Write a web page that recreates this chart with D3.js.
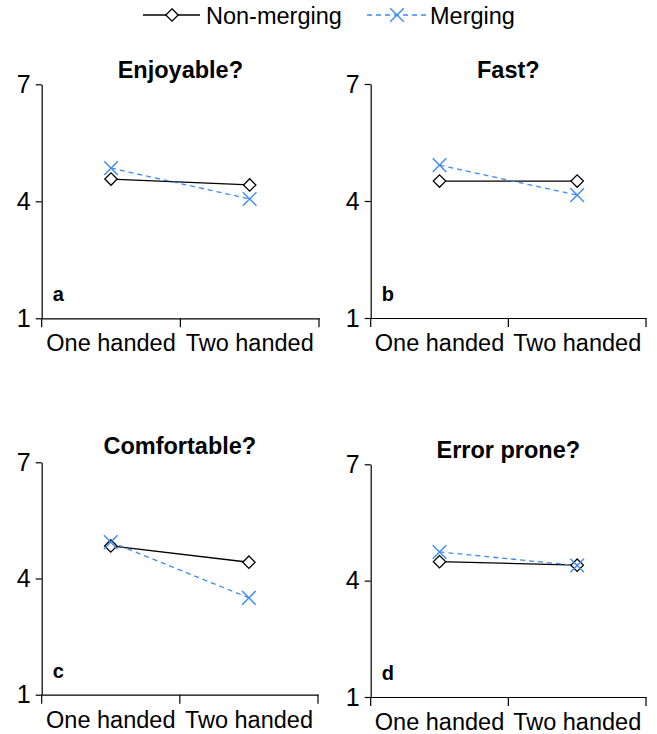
<!DOCTYPE html>
<html>
<head>
<meta charset="utf-8">
<script src="https://cdn.jsdelivr.net/npm/d3@7"></script>
<style>
  html, body { margin: 0; padding: 0; background: #fff; }
  svg { display: block; font-family: "Liberation Sans", Arial, Helvetica, sans-serif; }
</style>
</head>
<body>
<svg id="chart" width="657" height="734"></svg>
<script>
// Questionnaire ratings (1–7 scale) by hand condition
const categories = ["One handed", "Two handed"];
const titles = ["Enjoyable?", "Fast?", "Comfortable?", "Error prone?"];
const panelLetters = ["a", "b", "c", "d"];
const nonMerging = [[4.57, 4.42], [4.51, 4.51], [4.84, 4.42], [4.49, 4.40]];
const merging = [[4.85, 4.06], [4.92, 4.15], [4.94, 3.50], [4.74, 4.39]];
const yTicks = [1, 4, 7];
const seriesNames = ["Non-merging", "Merging"];

// Panel frames: left/right of x axis, top (7) and bottom (1) of y axis
const frames = [
  { x0: 41.7, x1: 319, yTop: 84.3, yBot: 318.3, titleY: 78 },
  { x0: 370.7, x1: 646, yTop: 84, yBot: 318, titleY: 78 },
  { x0: 41.7, x1: 318, yTop: 462.3, yBot: 694.7, titleY: 454 },
  { x0: 370.7, x1: 646, yTop: 464.3, yBot: 697, titleY: 458 }
];

const blue = "#3d8bf2";
const svg = d3.select("#chart");

function diamond(g, x, y) {
  const r = 6.2;
  g.append("path")
    .attr("d", `M${x},${y - r}L${x + r},${y}L${x},${y + r}L${x - r},${y}Z`)
    .attr("fill", "#fff").attr("stroke", "#000").attr("stroke-width", 1.3);
}
function cross(g, x, y) {
  const r = 6.8;
  g.append("path")
    .attr("d", `M${x - r},${y - r}L${x + r},${y + r}M${x - r},${y + r}L${x + r},${y - r}`)
    .attr("fill", "none").attr("stroke", blue).attr("stroke-width", 1.4);
}

frames.forEach((f, i) => {
  const g = svg.append("g");
  const x = d3.scaleBand().domain(categories).range([f.x0, f.x1]);
  const y = d3.scaleLinear().domain([1, 7]).range([f.yBot, f.yTop]);
  const cx = c => x(c) + x.bandwidth() / 2;

  // y axis
  const ya = g.append("g").attr("transform", `translate(${f.x0},0)`)
    .call(d3.axisLeft(y).tickValues(yTicks).tickSize(6).tickSizeOuter(0).tickPadding(5).tickFormat(d3.format("d")));
  ya.selectAll(".domain").attr("stroke", "#000").attr("stroke-width", 1.2);
  ya.selectAll(".tick line").attr("stroke", "#000").attr("stroke-width", 1.2);
  ya.selectAll(".tick text").attr("font-size", 25).attr("fill", "#000")
    .attr("font-family", "Liberation Sans, Arial, sans-serif");

  // x axis with ticks at band boundaries
  const xa = g.append("g").attr("transform", `translate(0,${f.yBot})`)
    .call(d3.axisBottom(x).tickSize(0).tickSizeOuter(0));
  xa.selectAll(".domain").attr("stroke", "#000").attr("stroke-width", 1.2);
  xa.selectAll(".tick text").attr("font-size", 23.5).attr("fill", "#000")
    .attr("y", 33).attr("dy", 0)
    .attr("font-family", "Liberation Sans, Arial, sans-serif");
  const bounds = categories.map(c => x(c)).concat([x(categories[categories.length - 1]) + x.bandwidth()]);
  g.selectAll(".btick").data(bounds).join("line")
    .attr("x1", d => d).attr("x2", d => d)
    .attr("y1", f.yBot).attr("y2", f.yBot + 9)
    .attr("stroke", "#000").attr("stroke-width", 1.2);

  // title
  g.append("text").attr("x", (f.x0 + f.x1) / 2).attr("y", f.titleY)
    .attr("text-anchor", "middle").attr("font-weight", "bold").attr("font-size", 23.5)
    .text(titles[i]);

  // panel letter
  g.append("text").attr("x", f.x0 + 11).attr("y", f.yBot - 17)
    .attr("font-weight", "bold").attr("font-size", 20)
    .text(panelLetters[i]);

  const line = d3.line().x((d, k) => cx(categories[k])).y(d => y(d));

  // Non-merging series
  g.append("path").datum(nonMerging[i]).attr("d", line)
    .attr("fill", "none").attr("stroke", "#000").attr("stroke-width", 1.3);
  // Merging series
  g.append("path").datum(merging[i]).attr("d", line)
    .attr("fill", "none").attr("stroke", blue).attr("stroke-width", 1.3)
    .attr("stroke-dasharray", "5,4");

  nonMerging[i].forEach((v, k) => diamond(g, cx(categories[k]), y(v)));
  merging[i].forEach((v, k) => cross(g, cx(categories[k]), y(v)));
});

// Legend
const lg = svg.append("g");
lg.append("line").attr("x1", 143).attr("x2", 200).attr("y1", 15).attr("y2", 15)
  .attr("stroke", "#000").attr("stroke-width", 1.3);
diamond(lg, 172, 15);
lg.append("text").attr("x", 206).attr("y", 24).attr("font-size", 23.5).text(seriesNames[0]);
lg.append("line").attr("x1", 367).attr("x2", 427).attr("y1", 15).attr("y2", 15)
  .attr("stroke", blue).attr("stroke-width", 1.3).attr("stroke-dasharray", "5,4");
cross(lg, 397, 15);
lg.append("text").attr("x", 430).attr("y", 24).attr("font-size", 23.5).text(seriesNames[1]);
</script>
</body>
</html>
